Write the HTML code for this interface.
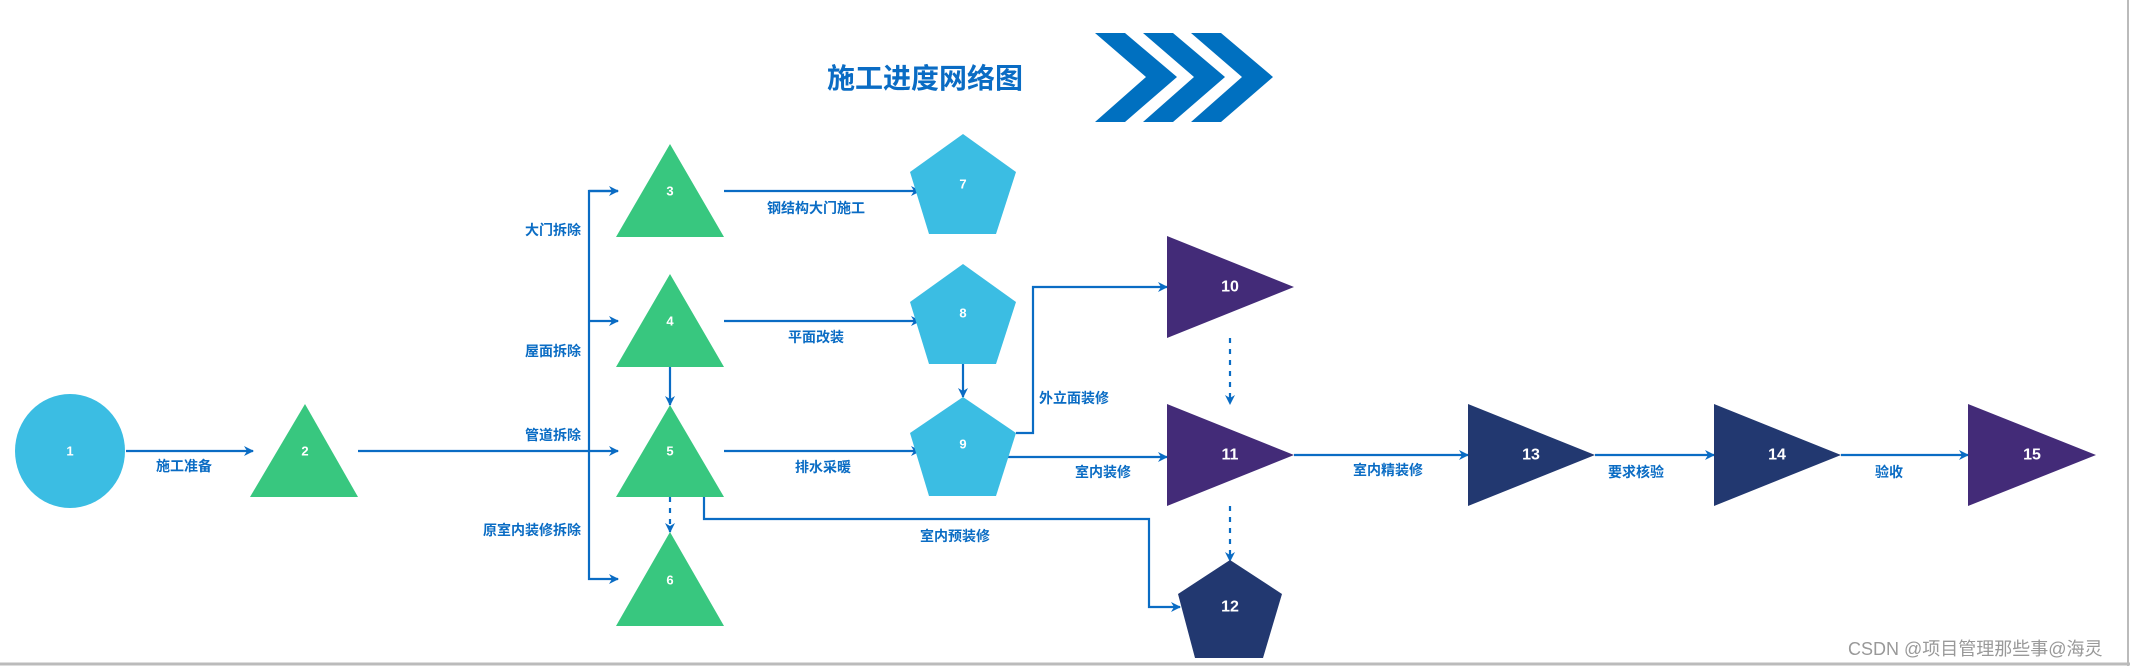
<!DOCTYPE html>
<html><head><meta charset="utf-8"><style>
html,body{margin:0;padding:0;background:#fff}
svg{display:block}
text{font-family:"Liberation Sans","Noto Sans CJK SC",sans-serif}
.l{fill:#0a6cc4;font-size:14px;font-weight:bold}
.n{fill:#fff;font-size:13px;font-weight:bold;text-anchor:middle;dominant-baseline:central}
.N{fill:#fff;font-size:16px;font-weight:bold;text-anchor:middle;dominant-baseline:central}
</style></head><body>
<svg width="2130" height="666" viewBox="0 0 2130 666" xmlns="http://www.w3.org/2000/svg">
<defs>
<marker id="a" markerWidth="10" markerHeight="10" refX="9" refY="5" orient="auto" markerUnits="userSpaceOnUse">
<path d="M0,0 L10,5 L0,10 L3,5 Z" fill="#0a6cc4"/></marker>
</defs>
<rect x="0" y="0" width="2130" height="666" fill="#fff"/>
<line x1="2128" y1="0" x2="2128" y2="666" stroke="#bbb" stroke-width="2"/>
<line x1="0" y1="664" x2="2130" y2="664" stroke="#bbb" stroke-width="3"/>

<text x="827" y="88" fill="#0a6cc4" font-size="28" font-weight="bold">施工进度网络图</text>
<g fill="#0070c0">
<polygon points="1095,33 1125,33 1177,77 1125,122 1095,122 1146,77"/>
<polygon points="1143,33 1173,33 1225,77 1173,122 1143,122 1194,77"/>
<polygon points="1191,33 1221,33 1273,77 1221,122 1191,122 1242,77"/>
</g>

<g stroke="#0a6cc4" stroke-width="2.2" fill="none">
<line x1="126" y1="451" x2="253" y2="451" marker-end="url(#a)"/>
<line x1="358" y1="451" x2="618" y2="451" marker-end="url(#a)"/>
<polyline points="618,191 589,191 589,579 618,579" marker-end="url(#a)"/>
<line x1="589" y1="191" x2="618" y2="191" marker-end="url(#a)"/>
<line x1="589" y1="321" x2="618" y2="321" marker-end="url(#a)"/>
<line x1="670" y1="367" x2="670" y2="405" marker-end="url(#a)"/>
<line x1="670" y1="497" x2="670" y2="532" stroke-dasharray="5,6" marker-end="url(#a)"/>
<line x1="724" y1="191" x2="920" y2="191" marker-end="url(#a)"/>
<line x1="724" y1="321" x2="920" y2="321" marker-end="url(#a)"/>
<line x1="724" y1="451" x2="920" y2="451" marker-end="url(#a)"/>
<line x1="963" y1="364" x2="963" y2="397" marker-end="url(#a)"/>
<polyline points="704,497 704,519 1149,519 1149,607 1180,607" marker-end="url(#a)"/>
<polyline points="1016,433 1033,433 1033,287 1167,287" marker-end="url(#a)"/>
<line x1="1008" y1="457" x2="1167" y2="457" marker-end="url(#a)"/>
<line x1="1230" y1="338" x2="1230" y2="404" stroke-dasharray="5,6" marker-end="url(#a)"/>
<line x1="1230" y1="506" x2="1230" y2="561" stroke-dasharray="5,6" marker-end="url(#a)"/>
<line x1="1294" y1="455" x2="1468" y2="455" marker-end="url(#a)"/>
<line x1="1595" y1="455" x2="1714" y2="455" marker-end="url(#a)"/>
<line x1="1841" y1="455" x2="1968" y2="455" marker-end="url(#a)"/>
</g>

<ellipse cx="70" cy="451" rx="55" ry="57" fill="#3bbde3"/>
<g fill="#38c77f">
<polygon points="305,404 358,497 250,497"/>
<polygon points="670,144 724,237 616,237"/>
<polygon points="670,274 724,367 616,367"/>
<polygon points="670,405 724,497 616,497"/>
<polygon points="670,532 724,626 616,626"/>
</g>
<g fill="#3bbde3">
<polygon points="963,134 1016,172 996,234 929,234 910,172"/>
<polygon points="963,264 1016,302 996,364 929,364 910,302"/>
<polygon points="963,397 1016,433 996,496 929,496 910,433"/>
</g>
<polygon points="1167,236 1294,287 1167,338" fill="#432b78"/>
<polygon points="1167,404 1294,455 1167,506" fill="#432b78"/>
<polygon points="1230,560 1282,594 1263,658 1195,658 1178,594" fill="#223870"/>
<polygon points="1468,404 1595,455 1468,506" fill="#223870"/>
<polygon points="1714,404 1841,455 1714,506" fill="#223870"/>
<polygon points="1968,404 2096,455 1968,506" fill="#432b78"/>

<text class="n" x="70" y="451">1</text>
<text class="n" x="305" y="451">2</text>
<text class="n" x="670" y="191">3</text>
<text class="n" x="670" y="321">4</text>
<text class="n" x="670" y="451">5</text>
<text class="n" x="670" y="580">6</text>
<text class="n" x="963" y="184">7</text>
<text class="n" x="963" y="313">8</text>
<text class="n" x="963" y="444">9</text>
<text class="N" x="1230" y="287">10</text>
<text class="N" x="1230" y="455">11</text>
<text class="N" x="1230" y="607">12</text>
<text class="N" x="1531" y="455">13</text>
<text class="N" x="1777" y="455">14</text>
<text class="N" x="2032" y="455">15</text>

<text class="l" x="156" y="471">施工准备</text>
<text class="l" x="581" y="235" text-anchor="end">大门拆除</text>
<text class="l" x="581" y="356" text-anchor="end">屋面拆除</text>
<text class="l" x="581" y="440" text-anchor="end">管道拆除</text>
<text class="l" x="581" y="535" text-anchor="end">原室内装修拆除</text>
<text class="l" x="767" y="213">钢结构大门施工</text>
<text class="l" x="788" y="342">平面改装</text>
<text class="l" x="795" y="472">排水采暖</text>
<text class="l" x="920" y="541">室内预装修</text>
<text class="l" x="1039" y="403">外立面装修</text>
<text class="l" x="1075" y="477">室内装修</text>
<text class="l" x="1353" y="475">室内精装修</text>
<text class="l" x="1608" y="477">要求核验</text>
<text class="l" x="1875" y="477">验收</text>
<text x="1848" y="655" fill="#999" font-size="18">CSDN @项目管理那些事@海灵</text>
</svg>
</body></html>
